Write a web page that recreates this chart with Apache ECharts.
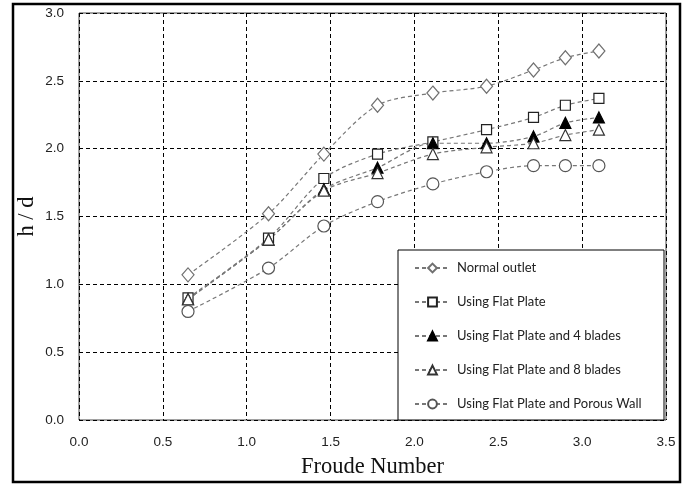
<!DOCTYPE html>
<html><head><meta charset="utf-8">
<script src="https://cdn.jsdelivr.net/npm/echarts@6/dist/echarts.min.js"></script>
<style>html,body{margin:0;padding:0;background:#fff}#c{width:690px;height:484px}</style>
</head><body><div id="c"></div>
<script>
var froude = [0.65, 1.13, 1.46, 1.78, 2.11, 2.43, 2.71, 2.90, 3.10];
var seriesNames = ['Normal outlet', 'Using Flat Plate', 'Using Flat Plate and 4 blades', 'Using Flat Plate and 8 blades', 'Using Flat Plate and Porous Wall'];
var normalOutlet = [1.07, 1.52, 1.96, 2.32, 2.41, 2.46, 2.58, 2.67, 2.72];
var flatPlate = [0.90, 1.34, 1.78, 1.96, 2.05, 2.14, 2.23, 2.32, 2.37];
var flatPlate4 = [0.89, 1.33, 1.70, 1.86, 2.04, 2.04, 2.09, 2.19, 2.23];
var flatPlate8 = [0.89, 1.33, 1.69, 1.82, 1.96, 2.01, 2.04, 2.10, 2.14];
var porousWall = [0.80, 1.12, 1.43, 1.61, 1.74, 1.83, 1.875, 1.875, 1.875];
var xTicks = [0, 0.5, 1.0, 1.5, 2.0, 2.5, 3.0, 3.5];
var yTicks = [0, 0.5, 1.0, 1.5, 2.0, 2.5, 3.0];

function pairs(ys){ return froude.map(function(x,i){ return [x, ys[i]]; }); }

var styles = [
  {symbol:'diamond', size:[12,14], fill:'#fff', stroke:'#707070'},
  {symbol:'rect', size:10, fill:'#fff', stroke:'#222'},
  {symbol:'triangle', size:[11,11], fill:'#000', stroke:'#000'},
  {symbol:'triangle', size:[11,11], fill:'#fff', stroke:'#333'},
  {symbol:'circle', size:12, fill:'#fff', stroke:'#555'}
];
var allData = [normalOutlet, flatPlate, flatPlate4, flatPlate8, porousWall];

var series = allData.map(function(d, i){
  var s = styles[i];
  return {
    name: seriesNames[i], type:'line', data: pairs(d), smooth: 0.3,
    symbol: s.symbol, symbolSize: s.size, showAllSymbol:true,
    lineStyle:{color:'#777', width:1.2, type:[4,3]},
    itemStyle:{color:s.fill, borderColor:s.stroke, borderWidth:1.2},
    emphasis:{disabled:true}, animation:false, z: 2
  };
});

var chart = echarts.init(document.getElementById('c'), null, {renderer:'canvas'});
chart.setOption({
  animation:false,
  backgroundColor:'#fff',
  grid:{left:79, top:13, right:24, bottom:63, show:true, borderColor:'#444', borderWidth:1},
  xAxis:{type:'value', min:0, max:3.5, interval:0.5,
    name:'Froude Number', nameLocation:'middle', nameGap:36,
    nameTextStyle:{fontFamily:'Liberation Serif', fontSize:22.5, color:'#111'},
    axisLine:{show:false}, axisTick:{show:false},
    axisLabel:{fontFamily:'Liberation Sans', fontSize:13.5, color:'#222', margin:15, formatter:function(v){return v.toFixed(1);}},
    splitLine:{show:true, lineStyle:{color:'#000', type:[4,3], width:1}}
  },
  yAxis:{type:'value', min:0, max:3, interval:0.5,
    name:'h / d', nameLocation:'middle', nameGap:40, nameMoveOverlap:false,
    nameTextStyle:{fontFamily:'Liberation Serif', fontSize:22.5, color:'#111'},
    axisLine:{show:false}, axisTick:{show:false},
    axisLabel:{fontFamily:'Liberation Sans', fontSize:13.5, color:'#222', margin:15, formatter:function(v){return v.toFixed(1);}},
    splitLine:{show:true, lineStyle:{color:'#000', type:[4,3], width:1}}
  },
  legend:{orient:'vertical', left:409, top:256, itemWidth:35, itemHeight:11, itemGap:20,
    data: seriesNames, z:6,
    textStyle:{fontFamily:'Lato', fontSize:13, color:'#222', lineHeight:14, padding:[0,0,0,2]},
    selectedMode:false
  },
  graphic:[
    {type:'rect', z:5, shape:{x:398, y:250, width:266, height:170}, style:{fill:'#fff', stroke:'#000', lineWidth:1}},
    {type:'rect', z:10, shape:{x:13, y:4, width:667, height:478}, style:{fill:'none', stroke:'#000', lineWidth:2.5}}
  ],
  series: series
});
</script></body></html>
